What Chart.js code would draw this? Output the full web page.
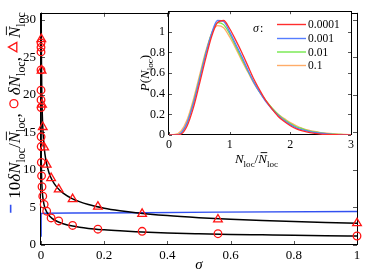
<!DOCTYPE html>
<html>
<head>
<meta charset="utf-8">
<script src="https://cdn.jsdelivr.net/npm/chart.js@4.4.1/dist/chart.umd.min.js"></script>
<style>
  body { margin: 0; background: #fff; }
  #wrap { position: relative; width: 367px; height: 280px; }
  #mainChart { position: absolute; left: 0; top: 0; }
  #insetChart { position: absolute; left: 130px; top: 0; }
</style>
</head>
<body>
<div id="wrap">
  <canvas id="mainChart" width="367" height="280"></canvas>
  <canvas id="insetChart" width="230" height="175"></canvas>
</div>
<script>
// main panel: markers
const triSigma = [1, 0.56, 0.32, 0.18, 0.1, 0.056, 0.032, 0.018, 0.01, 0.0056, 0.0032, 0.0018, 0.001];
const triValues = [2.9, 3.4, 4.15, 5.1, 6.1, 7.4, 8.9, 10.7, 13.0, 15.7, 18.7, 23.2, 27.4];

const circSigma = [1, 0.56, 0.32, 0.18, 0.1, 0.056, 0.032, 0.018, 0.01, 0.0056, 0.0032, 0.0018, 0.001,
    0.00056, 0.00032, 0.00018, 0.0001, 0.000056, 0.000032, 0.000018, 0.00001, 0.0000056];
const circValues = [1.2, 1.5, 1.82, 2.1, 2.6, 3.2, 3.6, 4.5, 5.4, 6.5, 7.75, 9.2, 11.0,
    13.1, 14.4, 18.3, 19.3, 20.6, 23.3, 25.7, 26.3, 26.9];

// black fit curves
const upperSigma = [0.0007, 0.001, 0.0015, 0.0025, 0.004, 0.006, 0.01, 0.015, 0.025, 0.035, 0.05, 0.07,
    0.1, 0.15, 0.2, 0.25, 0.3, 0.4, 0.5, 0.6, 0.7, 0.8, 0.9, 1];
const upperFit = [30.96, 27.6, 24.2, 20.45, 17.54, 15.37, 13.0, 11.4, 9.65, 8.65, 7.7, 6.9,
    6.14, 5.38, 4.9, 4.56, 4.29, 3.91, 3.64, 3.43, 3.26, 3.12, 3.0, 2.9];

const lowerSigma = [0.00004, 0.00005, 0.0001, 0.0002, 0.0005, 0.001, 0.0015, 0.0025, 0.004, 0.006, 0.01,
    0.015, 0.025, 0.035, 0.05, 0.07, 0.1, 0.15, 0.2, 0.25, 0.3, 0.4, 0.5, 0.6, 0.7, 0.8, 0.9, 1];
const lowerFit = [31.6, 29.4, 23.5, 18.8, 13.98, 11.17, 9.8, 8.31, 7.14, 6.26, 5.31,
    4.66, 3.95, 3.54, 3.16, 2.83, 2.52, 2.21, 2.02, 1.88, 1.77, 1.61, 1.5, 1.41, 1.35, 1.29, 1.24, 1.2];

// blue: 10 dN / N
const ratioSigma = [0.00001, 0.0001, 0.001, 0.01, 0.1, 0.32, 0.56, 1];
const ratioValues = [1.2, 4.15, 4.2, 4.22, 4.25, 4.3, 4.37, 4.45];

const mainXTicks = [0, 0.2, 0.4, 0.6, 0.8, 1];
const mainYTicks = [0, 5, 10, 15, 20, 25, 30];

// inset: P(N_loc)
const pdfX = [0, 0.1, 0.2, 0.3, 0.4, 0.5, 0.6, 0.7, 0.8, 0.9, 1.0, 1.1, 1.2, 1.3, 1.4, 1.5,
    1.6, 1.7, 1.8, 1.9, 2.0, 2.1, 2.2, 2.3, 2.4, 2.5, 2.6, 2.7, 2.8, 2.9, 3.0];
const pdf0001 = [0, 0, 0.01, 0.09, 0.26, 0.49, 0.73, 0.95, 1.09, 1.11, 1.03, 0.92, 0.80, 0.67, 0.54, 0.43,
    0.33, 0.25, 0.18, 0.13, 0.09, 0.06, 0.04, 0.025, 0.015, 0.009, 0.005, 0.003, 0.002, 0.001, 0];
const pdf001 = [0, 0, 0.02, 0.12, 0.30, 0.53, 0.77, 0.98, 1.11, 1.10, 1.00, 0.88, 0.76, 0.63, 0.51, 0.41,
    0.32, 0.25, 0.19, 0.14, 0.10, 0.07, 0.05, 0.035, 0.025, 0.017, 0.011, 0.007, 0.004, 0.002, 0.001];
const pdf01 = [0, 0, 0.02, 0.12, 0.31, 0.54, 0.78, 0.98, 1.09, 1.07, 0.98, 0.86, 0.74, 0.62, 0.51, 0.41,
    0.33, 0.26, 0.20, 0.15, 0.11, 0.08, 0.06, 0.04, 0.03, 0.02, 0.014, 0.009, 0.006, 0.003, 0.002];
const pdf1 = [0, 0.005, 0.04, 0.15, 0.34, 0.57, 0.80, 0.98, 1.06, 1.04, 0.95, 0.84, 0.72, 0.61, 0.50, 0.41,
    0.33, 0.26, 0.20, 0.16, 0.12, 0.09, 0.065, 0.047, 0.034, 0.024, 0.017, 0.012, 0.008, 0.005, 0.003];
const pdfXTicks = [0, 1, 2, 3];
const pdfYTicks = [0, 0.2, 0.4, 0.6, 0.8, 1];
const pdfLabels = ["0.0001", "0.001", "0.01", "0.1"];
const pdfColors = ["rgb(255,45,45)", "rgb(85,125,255)", "rgb(115,232,75)", "rgb(255,172,105)"];

const SERIF = '"Liberation Serif", "DejaVu Serif", serif';
const RED = "rgb(255,20,20)";
const BLUE = "rgb(50,80,240)";

const pts = (xs, ys) => xs.map((x, i) => ({ x, y: ys[i] }));
const plainLabel = (v) => String(Math.round(v * 1000) / 1000);

// draws a run of text pieces (italic, subscripts, bars, little markers); returns its width
function rich(ctx, parts, x, y, size, draw) {
    let cx = x;
    parts.forEach((p) => {
        if (p.gap) {
            cx += p.gap;
            return;
        }
        if (p.mark) {
            if (draw) {
                ctx.save();
                ctx.strokeStyle = p.color;
                ctx.lineWidth = 1.3;
                const mx = cx + p.w / 2;
                if (p.mark === "dash") {
                    ctx.lineWidth = 1.6;
                    ctx.beginPath();
                    ctx.moveTo(cx, y - size * 0.55);
                    ctx.lineTo(cx + p.w, y - size * 0.55);
                    ctx.stroke();
                } else if (p.mark === "circle") {
                    ctx.beginPath();
                    ctx.arc(mx, y - size * 0.36, 4, 0, Math.PI * 2);
                    ctx.stroke();
                } else {
                    const my = y - size * 0.4;
                    ctx.beginPath();
                    ctx.moveTo(mx, my - 4.8);
                    ctx.lineTo(mx + 4.8, my + 3.6);
                    ctx.lineTo(mx - 4.8, my + 3.6);
                    ctx.closePath();
                    ctx.stroke();
                }
                ctx.restore();
            }
            cx += p.w;
            return;
        }
        const fs = p.sub ? size * 0.7 : size;
        ctx.font = `${p.it ? "italic " : ""}${fs}px ${SERIF}`;
        const w = ctx.measureText(p.t).width;
        if (draw) {
            ctx.fillStyle = p.color || "#000";
            ctx.fillText(p.t, cx, y + (p.sub ? size * 0.28 : 0));
            if (p.bar) {
                ctx.strokeStyle = "#000";
                ctx.lineWidth = 0.9;
                ctx.beginPath();
                ctx.moveTo(cx + size * 0.18, y - size * 0.8);
                ctx.lineTo(cx + w + size * 0.02, y - size * 0.8);
                ctx.stroke();
            }
        }
        cx += w;
    });
    return cx - x;
}

function drawRich(ctx, parts, x, y, size, rotate) {
    ctx.save();
    ctx.textAlign = "left";
    ctx.textBaseline = "alphabetic";
    ctx.translate(x, y);
    if (rotate) ctx.rotate(-Math.PI / 2);
    const w = rich(ctx, parts, 0, 0, size, false);
    rich(ctx, parts, -w / 2, 0, size, true);
    ctx.restore();
}

// box with inward ticks, matlab style
function boxTicks(chart, len) {
    const { ctx, chartArea: a, scales } = chart;
    ctx.save();
    ctx.strokeStyle = "#555";
    ctx.lineWidth = 1;
    ctx.beginPath();
    scales.x.ticks.forEach((t) => {
        const px = Math.round(scales.x.getPixelForValue(t.value)) + 0.5;
        ctx.moveTo(px, a.bottom);
        ctx.lineTo(px, a.bottom - len);
        ctx.moveTo(px, a.top);
        ctx.lineTo(px, a.top + len);
    });
    scales.y.ticks.forEach((t) => {
        const py = Math.round(scales.y.getPixelForValue(t.value)) + 0.5;
        ctx.moveTo(a.left, py);
        ctx.lineTo(a.left + len, py);
        ctx.moveTo(a.right, py);
        ctx.lineTo(a.right - len, py);
    });
    ctx.stroke();
    ctx.strokeStyle = "#000";
    ctx.strokeRect(Math.round(a.left) - 0.5, Math.round(a.top) + 0.5,
        Math.round(a.right - a.left) + 1, Math.round(a.bottom - a.top) - 1);
    ctx.restore();
}

const mainDecor = {
    id: "mainDecor",
    beforeDatasetsDraw(chart) {
        boxTicks(chart, 4);
    },
    afterDraw(chart) {
        const ctx = chart.ctx;
        drawRich(ctx, [{ t: "σ", it: true }], 199, 269, 15, false);
        drawRich(ctx, [
            { mark: "dash", w: 8, color: BLUE }, { gap: 6 },
            { t: "10" }, { t: "δ", it: true }, { t: "N", it: true }, { t: "loc", sub: true },
            { t: "/" }, { t: "N", it: true, bar: true }, { t: "loc", sub: true }, { t: "," },
            { gap: 5 }, { mark: "circle", w: 9, color: RED }, { gap: 4 },
            { t: "δ", it: true }, { t: "N", it: true }, { t: "loc", sub: true }, { t: "," },
            { gap: 5 }, { mark: "tri", w: 10, color: RED }, { gap: 4 },
            { t: "N", it: true, bar: true }, { t: "loc", sub: true },
        ], 20, 112.5, 17, true);
    },
};

const insetDecor = {
    id: "insetDecor",
    beforeDraw(chart) {
        const { ctx, chartArea: a } = chart;
        ctx.save();
        ctx.fillStyle = "#fff";
        ctx.fillRect(a.left, a.top, a.right - a.left, a.bottom - a.top);
        ctx.restore();
    },
    beforeDatasetsDraw(chart) {
        boxTicks(chart, 3);
    },
    afterDraw(chart) {
        const ctx = chart.ctx;
        drawRich(ctx, [
            { t: "N", it: true }, { t: "loc", sub: true }, { t: "/" },
            { t: "N", it: true, bar: true }, { t: "loc", sub: true },
        ], 126.5, 163, 13, false);
        drawRich(ctx, [
            { t: "P", it: true }, { t: "(" }, { t: "N", it: true }, { t: "loc", sub: true }, { t: ")" },
        ], 19, 73, 13, true);

        // legend
        ctx.save();
        ctx.textBaseline = "alphabetic";
        ctx.fillStyle = "#000";
        ctx.font = `italic 12px ${SERIF}`;
        ctx.fillText("σ", 123, 32);
        const sw = ctx.measureText("σ").width;
        ctx.font = `12px ${SERIF}`;
        ctx.fillText(":", 123 + sw + 1, 32);
        const rows = [24.5, 38.5, 52, 65.5];
        ctx.font = `11.5px ${SERIF}`;
        ctx.textBaseline = "middle";
        pdfLabels.forEach((lab, i) => {
            ctx.strokeStyle = pdfColors[i];
            ctx.lineWidth = 1.4;
            ctx.beginPath();
            ctx.moveTo(147, rows[i]);
            ctx.lineTo(176, rows[i]);
            ctx.stroke();
            ctx.fillStyle = "#000";
            ctx.fillText(lab, 178, rows[i] + 0.5);
        });
        ctx.restore();
    },
};

const tickFont = (size) => ({ family: SERIF, size });

new Chart(document.getElementById("mainChart"), {
    type: "scatter",
    data: {
        datasets: [
            {
                data: pts(triSigma, triValues),
                pointStyle: "triangle", pointRadius: 5, borderColor: RED, borderWidth: 1.3,
                backgroundColor: "rgba(0,0,0,0)", showLine: false, clip: false,
            },
            {
                data: pts(circSigma, circValues),
                pointStyle: "circle", pointRadius: 3.8, borderColor: RED, borderWidth: 1.3,
                backgroundColor: "rgba(0,0,0,0)", showLine: false, clip: false,
            },
            {
                data: pts(upperSigma, upperFit), showLine: true, pointRadius: 0,
                borderColor: "#000", borderWidth: 1.5, cubicInterpolationMode: "monotone",
            },
            {
                data: pts(lowerSigma, lowerFit), showLine: true, pointRadius: 0,
                borderColor: "#000", borderWidth: 1.5, cubicInterpolationMode: "monotone",
            },
            {
                data: pts(ratioSigma, ratioValues), showLine: true, pointRadius: 0,
                borderColor: BLUE, borderWidth: 1.4, tension: 0,
            },
        ],
    },
    options: {
        responsive: false,
        animation: false,
        devicePixelRatio: 1,
        layout: { autoPadding: false, padding: { left: 0, right: 10, top: 3, bottom: 0 } },
        plugins: { legend: { display: false }, tooltip: { enabled: false } },
        scales: {
            x: {
                type: "linear", min: 0, max: 1,
                afterFit: (s) => { s.height = 35; },
                afterBuildTicks: (s) => { s.ticks = mainXTicks.map((v) => ({ value: v })); },
                grid: { display: false, drawTicks: false },
                border: { display: false },
                ticks: { color: "#000", font: tickFont(13), padding: 3, maxRotation: 0, callback: plainLabel },
            },
            y: {
                type: "linear", min: 0, max: 30.9,
                afterFit: (s) => { s.width = 41; },
                afterBuildTicks: (s) => { s.ticks = mainYTicks.map((v) => ({ value: v })); },
                grid: { display: false, drawTicks: false },
                border: { display: false },
                ticks: { color: "#000", font: tickFont(13), padding: 5, callback: plainLabel },
            },
        },
    },
    plugins: [mainDecor],
});

const pdfSets = [pdf0001, pdf001, pdf01, pdf1];

new Chart(document.getElementById("insetChart"), {
    type: "scatter",
    data: {
        datasets: pdfSets.map((ys, i) => ({
            data: pts(pdfX, ys), showLine: true, pointRadius: 0,
            borderColor: pdfColors[i], borderWidth: 1.3, cubicInterpolationMode: "monotone",
        })),
    },
    options: {
        responsive: false,
        animation: false,
        devicePixelRatio: 1,
        layout: { autoPadding: false, padding: { left: 0, right: 9, top: 11, bottom: 0 } },
        plugins: { legend: { display: false }, tooltip: { enabled: false } },
        scales: {
            x: {
                type: "linear", min: 0, max: 3,
                afterFit: (s) => { s.height = 40; },
                afterBuildTicks: (s) => { s.ticks = pdfXTicks.map((v) => ({ value: v })); },
                grid: { display: false, drawTicks: false },
                border: { display: false },
                ticks: { color: "#000", font: tickFont(12), padding: 3, maxRotation: 0, callback: plainLabel },
            },
            y: {
                type: "linear", min: 0, max: 1.2,
                afterFit: (s) => { s.width = 39; },
                afterBuildTicks: (s) => { s.ticks = pdfYTicks.map((v) => ({ value: v })); },
                grid: { display: false, drawTicks: false },
                border: { display: false },
                ticks: { color: "#000", font: tickFont(12), padding: 4, callback: plainLabel },
            },
        },
    },
    plugins: [insetDecor],
});
</script>
</body>
</html>
